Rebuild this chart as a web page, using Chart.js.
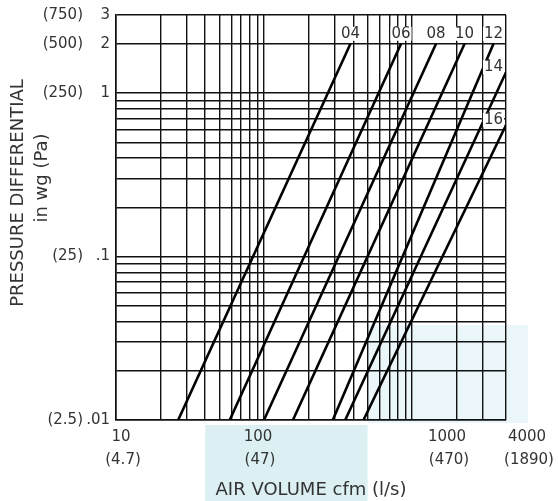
<!DOCTYPE html>
<html>
<head>
<meta charset="utf-8">
<script src="https://cdn.jsdelivr.net/npm/chart.js@4.4.1/dist/chart.umd.min.js"></script>
<style>
  html, body { margin:0; padding:0; background:#fff; }
  #wrap { width:558px; height:501px; }
</style>
</head>
<body>
<div id="wrap"><canvas id="chart" width="558" height="501"></canvas></div>
<script>
// Damper curves (flow in cfm, pressure in in wg)
const lineLabels = ['04', '06', '08', '10', '12', '14', '16'];
const flowLow  = [26.3, 58.6, 99.8, 156.6, 291, 353, 469];
const dpLow    = [0.01, 0.01, 0.01, 0.01, 0.01, 0.01, 0.01];
const flowHigh = [383, 841, 1449, 2258, 3540, 4300, 4300];
const dpHigh   = [2, 2, 2, 2, 2, 1.34, 0.637];

const xMin = 10, xMax = 4300;
const yMin = 0.01, yMax = 3;

const xTickLabels   = ['10', '100', '1000', '4000'];
const xTickLabelsSI = ['(4.7)', '(47)', '(470)', '(1890)'];
const yTickValues   = [0.01, 0.1, 1, 2, 3];
const yTickLabels   = ['.01', '.1', '1', '2', '3'];
const yTickLabelsPa = ['(2.5)', '(25)', '(250)', '(500)', '(750)'];

// gridlines: 1..9 in every decade
const decade = d => [1,2,3,4,5,6,7,8,9].map(k => +(k * d).toPrecision(3));
const xGrid = [...decade(10), ...decade(100), 1000, 2000, 3000, xMax];
const yGrid = [...decade(0.01), ...decade(0.1), 1, 2, 3];

// highlighted bands
const bandBelowFlow = [40, 500];
const bandPlotFlow = 500;
const bandPlotDpTop = 0.038;

const FONT = 'DejaVu Sans';
const TEXT = '#333';

const datasets = lineLabels.map((name, i) => ({
  label: name,
  data: [{x: flowLow[i], y: dpLow[i]}, {x: flowHigh[i], y: dpHigh[i]}],
  showLine: true,
  borderColor: '#000',
  borderWidth: 2.6,
  pointRadius: 0,
  fill: false
}));

const bands = {
  id: 'bands',
  beforeDraw(chart) {
    const {ctx, chartArea, scales} = chart;
    const x = scales.x, y = scales.y;
    ctx.save();
    ctx.fillStyle = '#eaf6f9';
    const x0 = x.getPixelForValue(bandPlotFlow);
    const yt = y.getPixelForValue(bandPlotDpTop);
    ctx.fillRect(x0, yt, chartArea.right + 22 - x0, chartArea.bottom + 3 - yt);
    ctx.fillStyle = '#dcf0f4';
    const b0 = x.getPixelForValue(bandBelowFlow[0]);
    const b1 = x.getPixelForValue(bandBelowFlow[1]);
    ctx.fillRect(b0, chartArea.bottom + 5, b1 - b0, chart.height - chartArea.bottom - 5);
    ctx.restore();
  }
};

const texts = {
  id: 'texts',
  afterDatasetsDraw(chart) {
    const {ctx, chartArea} = chart;
    ctx.save();
    // curve labels
    ctx.font = '15px "' + FONT + '"';
    lineLabels.forEach((name, i) => {
      const p = chart.getDatasetMeta(i).data[1];
      const w = ctx.measureText(name).width;
      let cx, cy;
      if (flowHigh[i] >= xMax) {
        cx = p.x - 3 - w / 2;
        cy = p.y - 5;
      } else {
        cx = p.x;
        cy = p.y - 10;
      }
      ctx.fillStyle = '#fff';
      ctx.fillRect(cx - w / 2 - 1, cy - 7, w + 2, 14);
      ctx.fillStyle = TEXT;
      ctx.textAlign = 'center';
      ctx.textBaseline = 'middle';
      ctx.fillText(name, cx, cy);
    });
    // x tick labels (placed as in the reference)
    const xLabelPx = [121, 258, 447, 527];
    ctx.font = '15px "' + FONT + '"';
    ctx.fillStyle = TEXT;
    ctx.textAlign = 'center';
    ctx.textBaseline = 'middle';
    xTickLabels.forEach((t, i) => {
      ctx.fillText(t, xLabelPx[i], chartArea.bottom + 17);
      ctx.fillText(xTickLabelsSI[i], xLabelPx[i] + 2, chartArea.bottom + 40);
    });
    // axis titles
    ctx.font = '18px "' + FONT + '"';
    ctx.fillText('AIR VOLUME cfm (l/s)', 311, chartArea.bottom + 70);
    ctx.save();
    ctx.translate(18, 193);
    ctx.rotate(-Math.PI / 2);
    ctx.fillText('PRESSURE DIFFERENTIAL', 0, 0);
    ctx.restore();
    ctx.save();
    ctx.translate(42, 178);
    ctx.rotate(-Math.PI / 2);
    ctx.fillText('in wg (Pa)', 0, 0);
    ctx.restore();
    ctx.restore();
  }
};

new Chart(document.getElementById('chart'), {
  type: 'scatter',
  data: { datasets },
  options: {
    responsive: false,
    animation: false,
    layout: { padding: { top: 15, right: 52, bottom: 81, left: 0 } },
    plugins: { legend: { display: false }, tooltip: { enabled: false } },
    scales: {
      x: {
        type: 'logarithmic',
        min: xMin, max: xMax,
        afterBuildTicks: s => { s.ticks = xGrid.map(v => ({value: v})); },
        ticks: { display: false },
        grid: { color: '#111', lineWidth: 1.4, drawTicks: false },
        border: { color: '#111', width: 1.6 }
      },
      y: {
        type: 'logarithmic',
        position: 'left',
        min: yMin, max: yMax,
        weight: 0,
        afterBuildTicks: s => { s.ticks = yGrid.map(v => ({value: v})); },
        afterFit: s => { s.width = 32; },
        ticks: {
          autoSkip: false,
          padding: 6,
          color: TEXT,
          font: { family: FONT, size: 15 },
          callback: v => {
            const i = yTickValues.findIndex(t => Math.abs(t - v) < t * 1e-6);
            return i < 0 ? '' : yTickLabels[i];
          }
        },
        grid: { color: '#111', lineWidth: 1.4, drawTicks: false },
        border: { color: '#111', width: 1.6 }
      },
      yPa: {
        type: 'logarithmic',
        position: 'left',
        min: yMin, max: yMax,
        weight: 1,
        afterBuildTicks: s => { s.ticks = yTickValues.map(v => ({value: v})); },
        afterFit: s => { s.width = 84; },
        ticks: {
          autoSkip: false,
          padding: 1,
          color: TEXT,
          font: { family: FONT, size: 15 },
          callback: (v, i) => yTickLabelsPa[i]
        },
        grid: { display: false, drawTicks: false },
        border: { display: false }
      }
    }
  },
  plugins: [bands, texts]
});
</script>
</body>
</html>
